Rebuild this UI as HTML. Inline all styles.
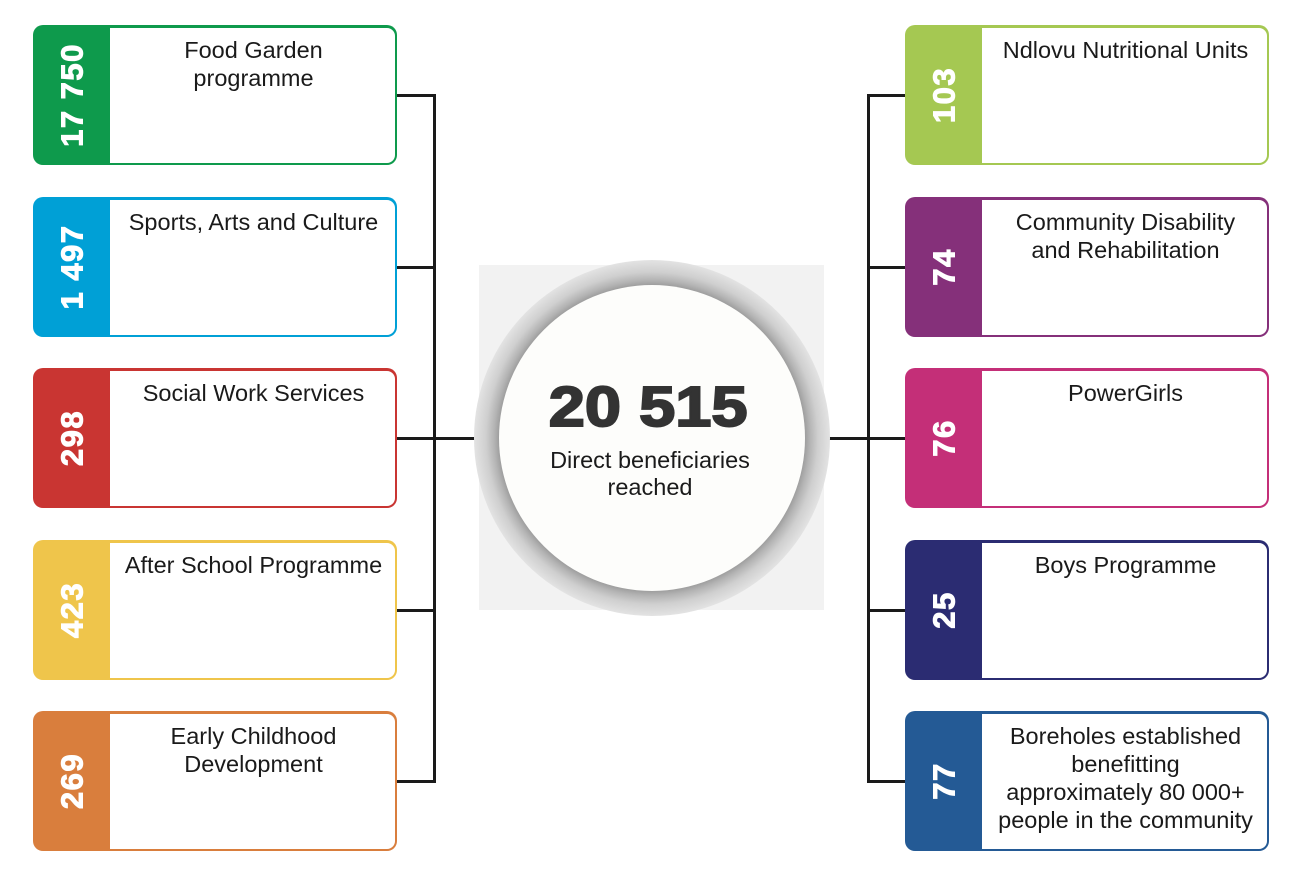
<!DOCTYPE html>
<html><head><meta charset="utf-8"><style>
*{margin:0;padding:0;box-sizing:border-box}
body{width:1300px;height:882px;background:#fff;position:relative;overflow:hidden;font-family:"Liberation Sans",Arial,sans-serif}
.box{position:absolute;width:364px;height:140px;border-radius:10px}
.box .w{position:absolute;left:77px;top:2.5px;right:2.5px;bottom:2.5px;background:#fff;border-radius:0 8px 8px 0}
.box .t{position:absolute;left:77px;right:0;top:11px;text-align:center;font-size:23.5px;line-height:28px;color:#1a1a1a}
.box .n{position:absolute;left:38.5px;top:70px;transform:translate(-50%,-50%) rotate(-90deg);color:#fff;font-weight:bold;font-size:31px;letter-spacing:1.5px;white-space:nowrap;line-height:1;-webkit-text-stroke:1px #fff}
.L{left:33px}.R{left:905px}
.ln{position:absolute;background:#1a1a1a}
</style></head><body>

<!-- connectors -->
<div class="ln" style="left:433px;top:93.5px;width:3px;height:689px"></div>
<div class="ln" style="left:396px;top:93.5px;width:40px;height:3px"></div>
<div class="ln" style="left:396px;top:265.5px;width:40px;height:3px"></div>
<div class="ln" style="left:396px;top:436.5px;width:80px;height:3px"></div>
<div class="ln" style="left:396px;top:608.5px;width:40px;height:3px"></div>
<div class="ln" style="left:396px;top:779.5px;width:40px;height:3px"></div>

<div class="ln" style="left:866.5px;top:93.5px;width:3px;height:689px"></div>
<div class="ln" style="left:866.5px;top:93.5px;width:40px;height:3px"></div>
<div class="ln" style="left:866.5px;top:265.5px;width:40px;height:3px"></div>
<div class="ln" style="left:828px;top:436.5px;width:78px;height:3px"></div>
<div class="ln" style="left:866.5px;top:608.5px;width:40px;height:3px"></div>
<div class="ln" style="left:866.5px;top:779.5px;width:40px;height:3px"></div>

<!-- center -->
<div style="position:absolute;left:479px;top:265px;width:345px;height:345px;background:#f2f2f2"></div>
<div style="position:absolute;left:474px;top:259.5px;width:356px;height:356px;border-radius:50%;background:radial-gradient(circle at 50% 50%, #9a9a9a 0px, #9a9a9a 152px, #b4b4b4 158px, #cfcfcf 166px, #e3e3e3 178px)"></div>
<div style="position:absolute;left:499px;top:285px;width:306px;height:306px;border-radius:50%;background:#fdfdfb"></div>
<div style="position:absolute;left:500px;top:379px;width:300px;text-align:center;line-height:1">
  <span style="display:inline-block;font-weight:bold;font-size:57px;color:#333;transform:scaleX(1.14);margin-left:-3px;-webkit-text-stroke:2px #333">20 515</span>
</div>
<div style="position:absolute;left:500px;top:447px;width:300px;text-align:center;font-size:23.5px;line-height:27px;color:#1a1a1a">Direct beneficiaries<br>reached</div>

<!-- left boxes -->
<div class="box L" style="top:25px;background:#0e9a4c"><div class="w"></div><div class="n">17 750</div><div class="t">Food Garden<br>programme</div></div>
<div class="box L" style="top:197px;background:#00a0d6"><div class="w"></div><div class="n">1 497</div><div class="t">Sports, Arts and Culture</div></div>
<div class="box L" style="top:368px;background:#c93532"><div class="w"></div><div class="n">298</div><div class="t">Social Work Services</div></div>
<div class="box L" style="top:540px;background:#efc54b"><div class="w"></div><div class="n">423</div><div class="t">After School Programme</div></div>
<div class="box L" style="top:711px;background:#d97e3d"><div class="w"></div><div class="n">269</div><div class="t">Early Childhood<br>Development</div></div>

<!-- right boxes -->
<div class="box R" style="top:25px;background:#a5c852"><div class="w"></div><div class="n">103</div><div class="t">Ndlovu Nutritional Units</div></div>
<div class="box R" style="top:197px;background:#85307a"><div class="w"></div><div class="n">74</div><div class="t">Community Disability<br>and Rehabilitation</div></div>
<div class="box R" style="top:368px;background:#c42f78"><div class="w"></div><div class="n">76</div><div class="t">PowerGirls</div></div>
<div class="box R" style="top:540px;background:#2b2c72"><div class="w"></div><div class="n">25</div><div class="t">Boys Programme</div></div>
<div class="box R" style="top:711px;background:#245a95"><div class="w"></div><div class="n">77</div><div class="t">Boreholes established<br>benefitting<br>approximately 80 000+<br>people in the community</div></div>

</body></html>
